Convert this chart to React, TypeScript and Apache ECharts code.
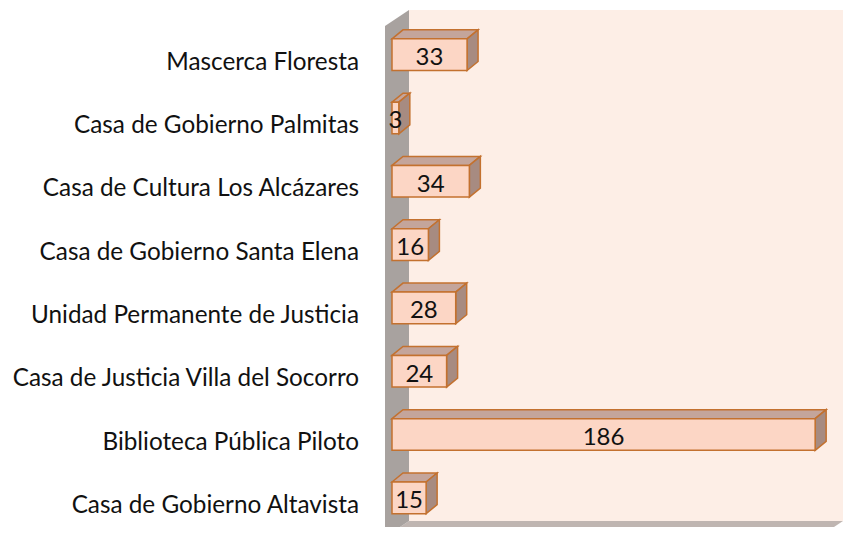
import React, { useEffect, useRef } from "react";
import * as echarts from "echarts";

const categories = [
  "Mascerca Floresta",
  "Casa de Gobierno Palmitas",
  "Casa de Cultura Los Alcázares",
  "Casa de Gobierno Santa Elena",
  "Unidad Permanente de Justicia",
  "Casa de Justicia Villa del Socorro",
  "Biblioteca Pública Piloto",
  "Casa de Gobierno Altavista",
];
const values = [33, 3, 34, 16, 28, 24, 186, 15];

const FONT = "Lato, 'Noto Sans', sans-serif";
const DX = 11;
const DY = -9;
const BAR_SHIFT = -5.5;

export default function App() {
  const ref = useRef<HTMLDivElement>(null);
  useEffect(() => {
    if (!ref.current) return;
    const chart = echarts.init(ref.current, null, { renderer: "svg" });
    const wallFill = "#A8A29F";
    const option: any = {
      animation: false,
      backgroundColor: "#ffffff",
      grid: { left: 392, top: 28.5, width: 455, height: 511, containLabel: false },
      xAxis: {
        type: "value",
        min: 0,
        max: 200,
        show: false,
      },
      yAxis: {
        type: "category",
        data: categories,
        inverse: true,
        axisLine: { show: false },
        axisTick: { show: false },
        splitLine: { show: false },
        axisLabel: {
          margin: 33,
          color: "#111111",
          fontFamily: FONT,
          fontSize: 24.3,
        },
      },
      graphic: [
        {
          type: "polygon",
          z: 0,
          shape: { points: [[409, 10], [843, 10], [843, 521], [409, 521]] },
          style: { fill: "#FDEEE6" },
        },
        {
          type: "polygon",
          z: 0,
          shape: { points: [[409, 521], [843, 521], [819, 537], [385, 537]] },
          style: { fill: "#BFB5B1" },
        },
        {
          type: "polygon",
          z: 0,
          shape: { points: [[385, 26], [409, 10], [409, 521], [385, 537]] },
          style: { fill: wallFill },
        },
      ],
      series: [
        {
          type: "custom",
          coordinateSystem: "cartesian2d",
          encode: { x: 0, y: 1 },
          data: values.map((v, i) => [v, i]),
          renderItem: (params: any, api: any) => {
            const v = api.value(0);
            const idx = api.value(1);
            const p0 = api.coord([0, idx]);
            const p1 = api.coord([v, idx]);
            const bandH = api.size([0, 1])[1];
            const h = bandH * 0.5;
            const x0 = p0[0];
            const x1 = p1[0];
            const cy = p0[1] + BAR_SHIFT;
            const yT = cy - h / 2;
            const yB = cy + h / 2;
            const stroke = "#C3712F";
            const lw = 1.5;
            return {
              type: "group",
              children: [
                {
                  type: "polygon",
                  shape: {
                    points: [
                      [x0, yT],
                      [x0 + DX, yT + DY],
                      [x1 + DX, yT + DY],
                      [x1, yT],
                    ],
                  },
                  style: { fill: "#C4A59B", stroke, lineWidth: lw },
                },
                {
                  type: "polygon",
                  shape: {
                    points: [
                      [x1, yT],
                      [x1 + DX, yT + DY],
                      [x1 + DX, yB + DY],
                      [x1, yB],
                    ],
                  },
                  style: { fill: "#A78B81", stroke, lineWidth: lw },
                },
                {
                  type: "rect",
                  shape: { x: x0, y: yT, width: x1 - x0, height: h },
                  style: { fill: "#FCD6C5", stroke, lineWidth: lw },
                },
                {
                  type: "text",
                  x: (x0 + x1) / 2,
                  y: cy + 1,
                  style: {
                    text: String(v),
                    fill: "#111111",
                    font: `24px ${FONT}`,
                    align: "center",
                    verticalAlign: "middle",
                  },
                  z2: 10,
                },
              ],
            };
          },
          z: 3,
        },
      ],
    };
    chart.setOption(option);
    return () => chart.dispose();
  }, []);
  return <div ref={ref} style={{ width: 852, height: 535, margin: -8 }} />;
}
